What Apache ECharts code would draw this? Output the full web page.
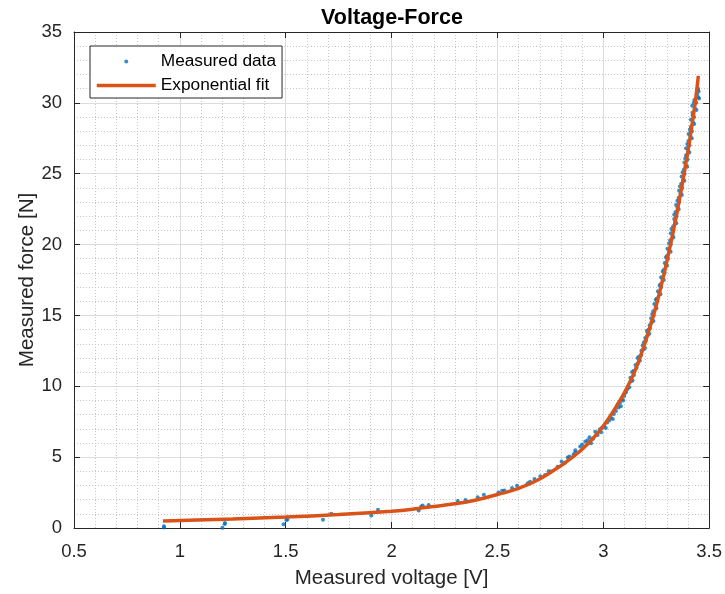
<!DOCTYPE html>
<html>
<head>
<meta charset="utf-8">
<title>Voltage-Force</title>
<script src="https://cdn.jsdelivr.net/npm/echarts@6/dist/echarts.min.js"></script>
<style>
  html, body { margin: 0; padding: 0; background: #fff; }
  #chart { width: 725px; height: 594px; }
</style>
</head>
<body>
<div id="chart"></div>
<script>
// measured points: [voltage (V), force (N)]
var measured = [
  [0.925, 0.12], [0.925, 0.03], [1.201, 0.02], [1.212, 0.28], [1.213, 0.36],
  [1.49, 0.26], [1.503, 0.56], [1.508, 0.6], [1.676, 0.58], [1.715, 1.0],
  [1.904, 0.89], [1.936, 1.28], [2.128, 1.24], [2.14, 1.52], [2.147, 1.58],
  [2.175, 1.63], [2.313, 1.9], [2.349, 1.98], [2.407, 2.17], [2.436, 2.34],
  [2.505, 2.5], [2.522, 2.62], [2.533, 2.64], [2.569, 2.83], [2.593, 2.99],
  [2.643, 3.16], [2.654, 3.27], [2.675, 3.46], [2.703, 3.65], [2.725, 3.74],
  [2.742, 4.0], [2.753, 3.98], [2.784, 4.33], [2.803, 4.7], [2.82, 4.6],
  [2.832, 4.98], [2.84, 5.05], [2.86, 5.2], [2.868, 5.33], [2.868, 5.49],
  [2.891, 5.75], [2.9, 5.9], [2.915, 6.1], [2.926, 6.19], [2.935, 6.4],
  [2.942, 5.98], [2.952, 6.3], [2.962, 6.8], [2.973, 6.57], [2.984, 6.96],
  [2.99, 6.75], [2.994, 7.08], [3.005, 7.2], [3.012, 7.05], [3.018, 7.45],
  [3.028, 7.59], [3.036, 7.78], [3.045, 7.7], [3.05, 8.05], [3.06, 8.25],
  [3.068, 8.72], [3.072, 8.5], [3.079, 8.84], [3.083, 8.6], [3.088, 9.07],
  [3.094, 9.0], [3.099, 9.31], [3.102, 9.5], [3.108, 9.6], [3.115, 9.8],
  [3.123, 9.94], [3.131, 10.36],
  [3.128, 10.6], [3.145, 10.8], [3.136, 11.0], [3.157, 11.3], [3.152, 11.5],
  [3.173, 11.8], [3.162, 12.0], [3.18, 12.2], [3.18, 12.5], [3.197, 12.7],
  [3.186, 12.9], [3.201, 13.2], [3.198, 13.4], [3.217, 13.7], [3.206, 13.9],
  [3.221, 14.1], [3.219, 14.3], [3.237, 14.6], [3.226, 14.8], [3.238, 15.0],
  [3.236, 15.3], [3.251, 15.5], [3.241, 15.8], [3.255, 16.0], [3.253, 16.2],
  [3.27, 16.5], [3.258, 16.7], [3.274, 17.0], [3.27, 17.2], [3.286, 17.5],
  [3.273, 17.7], [3.29, 18.0], [3.285, 18.2], [3.301, 18.5], [3.29, 18.7],
  [3.306, 19.0], [3.301, 19.2], [3.318, 19.5], [3.303, 19.7], [3.319, 20.0],
  [3.316, 20.3], [3.331, 20.5], [3.319, 20.8], [3.331, 21.0], [3.33, 21.3],
  [3.345, 21.5], [3.335, 21.8], [3.346, 22.0], [3.341, 22.3], [3.356, 22.5],
  [3.344, 22.8], [3.359, 23.0], [3.356, 23.3], [3.371, 23.5], [3.358, 23.8],
  [3.373, 24.0], [3.368, 24.3], [3.383, 24.5], [3.37, 24.8], [3.384, 25.0],
  [3.381, 25.3], [3.396, 25.5], [3.383, 25.8], [3.398, 26.0], [3.391, 26.3],
  [3.406, 26.5], [3.391, 26.8], [3.407, 27.0], [3.402, 27.3], [3.418, 27.5],
  [3.403, 27.8], [3.419, 28.0], [3.413, 28.3], [3.429, 28.5], [3.414, 28.8],
  [3.429, 29.0], [3.421, 29.3], [3.44, 29.5], [3.42, 29.8], [3.439, 30.0],
  [3.43, 30.2], [3.449, 30.4], [3.443, 30.6], [3.45, 30.8], [3.448, 31.0],
  [3.138, 10.4], [3.144, 11.1], [3.163, 11.6], [3.169, 12.1], [3.189, 12.6],
  [3.192, 13.1], [3.209, 13.6], [3.214, 14.0], [3.228, 14.5], [3.231, 15.1],
  [3.248, 15.6], [3.248, 16.1], [3.265, 16.6], [3.266, 17.1], [3.279, 17.6],
  [3.281, 18.1], [3.297, 18.6], [3.296, 19.1], [3.312, 19.6], [3.311, 20.1],
  [3.328, 20.6], [3.322, 21.1], [3.34, 21.6], [3.335, 22.1], [3.35, 22.6],
  [3.35, 23.1], [3.366, 23.6], [3.362, 24.1], [3.378, 24.6], [3.375, 25.1],
  [3.39, 25.6], [3.388, 26.1], [3.402, 26.6], [3.397, 27.1], [3.412, 27.6],
  [3.409, 28.1], [3.425, 28.6], [3.422, 29.1], [3.433, 29.6], [3.428, 30.0],
  [3.446, 30.9], [3.452, 30.3]
];

// exponential fit
var fit = [
  [0.92, 0.49], [1.0, 0.53], [1.25, 0.64], [1.5, 0.77], [1.75, 0.95],
  [2.0, 1.19], [2.1, 1.33], [2.2, 1.52], [2.3, 1.71], [2.4, 1.98],
  [2.5, 2.36], [2.6, 2.8], [2.7, 3.46], [2.8, 4.4], [2.85, 4.95],
  [2.9, 5.56], [2.95, 6.3], [3.0, 7.2], [3.05, 8.3], [3.1, 9.55],
  [3.15, 11.1], [3.2, 13.2], [3.25, 15.7], [3.3, 18.8], [3.35, 22.4],
  [3.4, 26.6], [3.434, 30.0], [3.449, 31.9]
];

var xRange = [0.5, 3.5, 0.5];
var yRange = [0, 35, 5];

var font = '"Liberation Sans", Arial, Helvetica, sans-serif';
var axisColor = '#262626';

function makeAxis(range, position, main) {
  return {
    type: 'value',
    position: position,
    min: range[0],
    max: range[1],
    interval: range[2],
    axisLine: { show: true, onZero: false, lineStyle: { color: axisColor, width: 1 } },
    axisTick: { show: true, inside: true, length: 6, lineStyle: { color: axisColor, width: 1 } },
    minorTick: { show: false, splitNumber: 5 },
    axisLabel: {
      show: main, color: axisColor, fontSize: 18.5, fontFamily: font, margin: 14,
      showMinLabel: true, showMaxLabel: true
    },
    splitLine: { show: main, lineStyle: { color: '#dcdcdc', width: 1 } },
    minorSplitLine: { show: main, lineStyle: { color: '#c6c6c6', width: 1, type: [1, 2] } }
  };
}

var xBottom = makeAxis(xRange, 'bottom', true);
xBottom.name = 'Measured voltage [V]';
xBottom.nameLocation = 'middle';
xBottom.nameGap = 40;
xBottom.nameMoveOverlap = false;
xBottom.nameTextStyle = { color: axisColor, fontSize: 20.5, fontFamily: font };

var yLeft = makeAxis(yRange, 'left', true);
yLeft.axisLabel.margin = 12;
yLeft.name = 'Measured force [N]';
yLeft.nameLocation = 'middle';
yLeft.nameGap = 36;
yLeft.nameMoveOverlap = false;
yLeft.nameTextStyle = { color: axisColor, fontSize: 20.5, fontFamily: font };

var chart = echarts.init(document.getElementById('chart'), null, { renderer: 'canvas' });

chart.setOption({
  animation: false,
  backgroundColor: '#fff',
  grid: { left: 74, right: 15, top: 32, bottom: 63, containLabel: false },
  graphic: [{
    type: 'text',
    x: 392,
    y: 18,
    style: {
      text: 'Voltage-Force',
      font: 'bold 21.5px "Liberation Sans", Arial, sans-serif',
      fill: '#000',
      align: 'center',
      verticalAlign: 'middle'
    }
  }],
  legend: {
    orient: 'vertical',
    left: 90,
    top: 46,
    itemWidth: 59,
    itemHeight: 4,
    itemGap: 7,
    padding: [7, 6, 4, 5],
    borderColor: '#262626',
    borderWidth: 1,
    backgroundColor: '#fff',
    selectedMode: false,
    textStyle: { color: '#000', fontSize: 17.3, fontFamily: font },
    data: [
      { name: 'Measured data', icon: 'circle' },
      { name: 'Exponential fit', lineStyle: { width: 3.5 } }
    ]
  },
  xAxis: [xBottom, makeAxis(xRange, 'top', false)],
  yAxis: [yLeft, makeAxis(yRange, 'right', false)],
  series: [
    {
      name: 'Measured data',
      type: 'scatter',
      data: measured,
      symbol: 'circle',
      symbolSize: 4,
      itemStyle: { color: '#0072BD' }
    },
    {
      name: 'Exponential fit',
      type: 'line',
      data: fit,
      smooth: 0.3,
      symbol: 'none',
      lineStyle: { color: '#D95319', width: 3.5 },
      itemStyle: { color: '#D95319' }
    }
  ]
});
</script>
</body>
</html>
